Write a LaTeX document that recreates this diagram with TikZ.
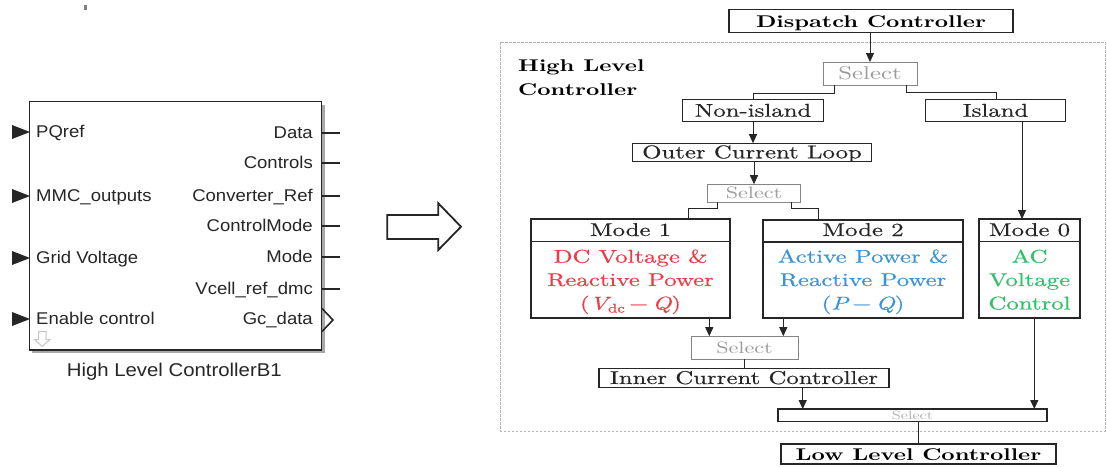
\documentclass[tikz,border=0pt]{standalone}
\usepackage{fontspec}
\setmainfont{lmroman10-regular.otf}[BoldFont=lmroman10-bold.otf, ItalicFont=lmroman10-italic.otf, BoldItalicFont=lmroman10-bolditalic.otf]
\newfontfamily\rmh{lmroman10-regular.otf}[FakeBold=0.35]
\newfontfamily\rmhi{lmroman10-italic.otf}[FakeBold=0.35]
\newfontfamily\lsans{Liberation Sans}
\usepackage{graphicx}
\usetikzlibrary{arrows.meta}
\definecolor{dk}{HTML}{262626}
\definecolor{cred}{HTML}{F03A45}
\definecolor{cblue}{HTML}{3A94DA}
\definecolor{cgreen}{HTML}{2FC06A}
\definecolor{selt}{HTML}{9C9C9C}
\definecolor{selb}{HTML}{858585}
\definecolor{frm}{HTML}{B5B5B5}
\definecolor{shd}{HTML}{A8A8A8}
\newcommand{\wxr}[1]{\scalebox{1.34}[1]{#1}}
\newcommand{\wxb}[1]{\scalebox{1.36}[1]{#1}}
\newcommand{\wxs}[1]{\scalebox{1.09}[1]{#1}}
\newcommand{\wxt}[1]{\scalebox{1.1}[1]{#1}}
\newcommand{\subdc}{\raisebox{-3pt}{\fontsize{12.5}{14}\selectfont dc}}
\tikzset{
  bx/.style={draw=dk, line width=1.2pt, fill=white, inner sep=0pt, outer sep=0pt},
  selbox/.style={draw=selb, line width=1pt, fill=white, inner sep=0pt, outer sep=0pt},
  lbl/.style={inner sep=0pt, anchor=base, text=dk, font=\rmh\fontsize{18.5}{22}\selectfont},
  blbl/.style={inner sep=0pt, anchor=base, text=black, font=\fontsize{17}{20}\selectfont\bfseries},
  sell/.style={inner sep=0pt, anchor=base, text=selt},
  slbl/.style={inner sep=0pt, text=dk, font=\lsans\fontsize{17}{20}\selectfont},
  arr/.style={draw=dk, line width=1pt, -{Triangle[length=9pt,width=8pt]}},
  ln/.style={draw=dk, line width=1pt},
  frame/.style={draw=frm, line width=0.8pt, dash pattern=on 2.5pt off 1.5pt},
}
\begin{document}
\begin{tikzpicture}[x=1pt,y=-1pt]
\useasboundingbox (0,0) rectangle (1107,466);
\fill[white] (0,0) rectangle (1107,466);

% stray tick mark
\fill[gray] (84,5) rectangle (86.5,9.5);

% ---------------- Simulink block ----------------
\fill[shd] (32,104.5) rectangle (324.5,352.8);
\node[draw=dk, line width=1.4pt, fill=white, inner sep=0pt, outer sep=0pt,
      minimum width=292.4pt, minimum height=248.3pt] (blk) at (175.5,225.85) {};

\foreach \y/\t [count=\i] in {132/PQref, 196/MMC\_outputs, 258/Grid Voltage, 319/Enable control}{
  \fill[dk] (12,{\y-7}) -- (30,\y) -- (12,{\y+7}) -- cycle;
  \node[slbl, anchor=base west] (in\i) at (36,{\y+5.5}) {\wxs{\t}};
}
\foreach \y/\t [count=\i] in {133/Data, 163/Controls, 196/Converter\_Ref, 226/ControlMode, 257/Mode, 289/Vcell\_ref\_dmc}{
  \draw[dk, line width=1.1pt] (321.7,\y) -- (340,\y);
  \node[slbl, anchor=base east] (out\i) at (313,{\y+5.5}) {\wxs{\t}};
}
\node[slbl, anchor=base east] (out7) at (313,324.5) {\wxs{Gc\_data}};
\draw[dk, line width=1.6pt] (322,308.5) -- (333,320) -- (322,331.5);
\draw[gray!45, line width=1pt] (38.5,331.5) -- (46,331.5) -- (46,339.5) -- (50,339.5)
   -- (42.25,346.5) -- (34.5,339.5) -- (38.5,339.5) -- cycle;
\node[inner sep=0pt, anchor=base, text=dk, font=\lsans\fontsize{18.5}{22}\selectfont]
   (blkname) at (174.3,376.7) {\wxt{High Level ControllerB1}};

% ---------------- big hollow arrow ----------------
\draw[draw=dk, line width=1.8pt, fill=white] (387.3,215) -- (438.3,215) -- (438.3,203.3)
   -- (461,226.7) -- (438.3,250) -- (438.3,239) -- (387.3,239) -- cycle;

% ---------------- right diagram ----------------
\draw[frame] (500.5,42) rectangle (1105,431);
\node[blbl, anchor=base west] (hlc1) at (518,71.7) {\wxb{High Level}};
\node[blbl, anchor=base west] (hlc2) at (518,95.7) {\wxb{Controller}};

\node[bx, minimum width=284pt, minimum height=23pt] (disp) at (871,21) {};
\node[blbl] (dispT) at (871,27.3) {\wxb{Dispatch Controller}};

\node[selbox, minimum width=94pt, minimum height=23pt] (sel1) at (870,73.5) {};
\node[sell, font=\fontsize{18.5}{22}\selectfont] (sel1T) at (870,79.5) {\wxr{Select}};

\node[bx, minimum width=141pt, minimum height=22pt] (nonisl) at (753,110.7) {};
\node[lbl] (nonislT) at (753,116.7) {\wxr{Non-island}};

\node[bx, minimum width=140pt, minimum height=22pt] (island) at (995.5,110.5) {};
\node[lbl] (islandT) at (995.5,116.7) {\wxr{Island}};

\node[bx, minimum width=239pt, minimum height=18pt] (outer) at (752,152.2) {};
\node[lbl] (outerT) at (752,158.3) {\wxr{Outer Current Loop}};

\node[selbox, minimum width=93pt, minimum height=18pt] (sel2) at (754,193.2) {};
\node[sell, font=\fontsize{16.5}{20}\selectfont] (sel2T) at (754,198.5) {\wxr{Select}};

% Mode boxes
\node[bx, minimum width=199pt, minimum height=99pt] (m1) at (630.5,268.5) {};
\draw[ln, line width=1.2pt] ([yshift=-22.7pt]m1.north west) -- ([yshift=-22.7pt]m1.north east);
\node[lbl] (m1T) at (630.5,236) {\wxr{Mode 1}};
\node[lbl, text=cred] (m1a) at (630.5,262.7) {\wxr{DC Voltage \&}};
\node[lbl, text=cred] (m1b) at (630.5,286) {\wxr{Reactive Power}};
\node[lbl, text=cred] (m1c) at (630.5,309.5) {\wxr{({\rmhi V}\subdc\,−\,{\rmhi Q})}};

\node[bx, minimum width=200pt, minimum height=98pt] (m2) at (863,269) {};
\draw[ln, line width=1.2pt] ([yshift=-22pt]m2.north west) -- ([yshift=-22pt]m2.north east);
\node[lbl] (m2T) at (863,236) {\wxr{Mode 2}};
\node[lbl, text=cblue] (m2a) at (863,262.7) {\wxr{Active Power \&}};
\node[lbl, text=cblue] (m2b) at (863,286) {\wxr{Reactive Power}};
\node[lbl, text=cblue] (m2c) at (863,309.5) {\wxr{({\rmhi P}\,−\,{\rmhi Q})}};

\node[bx, minimum width=101pt, minimum height=99pt] (m0) at (1029.5,268.5) {};
\draw[ln, line width=1.2pt] ([yshift=-22.7pt]m0.north west) -- ([yshift=-22.7pt]m0.north east);
\node[lbl] (m0T) at (1029.5,236) {\wxr{Mode 0}};
\node[lbl, text=cgreen] (m0a) at (1029.5,262.7) {\wxr{AC}};
\node[lbl, text=cgreen] (m0b) at (1029.5,286) {\wxr{Voltage}};
\node[lbl, text=cgreen] (m0c) at (1029.5,309.5) {\wxr{Control}};

\node[selbox, minimum width=107pt, minimum height=23pt] (sel3) at (744.5,347.7) {};
\node[sell, font=\fontsize{16.5}{20}\selectfont] (sel3T) at (744.5,353.3) {\wxr{Select}};

\node[bx, minimum width=290pt, minimum height=19.4pt] (inner) at (744,378) {};
\node[lbl] (innerT) at (744,384) {\wxr{Inner Current Controller}};

\node[bx, draw=dk, minimum width=269pt, minimum height=12.7pt] (sel4) at (912.5,415.4) {};
\node[sell, text=selt!80, font=\fontsize{12}{14}\selectfont] (sel4T) at (912.5,419.2) {\wxr{Select}};

\node[bx, minimum width=275pt, minimum height=20pt] (low) at (918.5,454) {};
\node[blbl] (lowT) at (918.5,460) {\wxb{Low Level Controller}};

% ---------------- connectors ----------------
\draw[arr] (disp.south -| sel1.north) -- (sel1.north);
\draw[ln] ([xshift=-36pt]sel1.south) -- ++(0,8) -| (nonisl.north);
\draw[ln] ([xshift=36.7pt]sel1.south) -- ++(0,7.7) -| ([xshift=1.2pt]island.north);
\draw[arr] (nonisl.south) -- (nonisl.south |- outer.north);
\draw[arr] (sel2.north |- outer.south) -- (sel2.north);
\draw[ln] ([xshift=-37pt]sel2.south) -- ++(0,6.7) -| ([xshift=57.5pt]m1.north);
\draw[ln] ([xshift=37.7pt]sel2.south) -- ++(0,6.7) -| ([xshift=-44.7pt]m2.north);
\draw[arr] ([xshift=26.5pt]island.south) -- ([xshift=26.5pt]island.south |- m0.north);
\draw[arr] ([xshift=-35.2pt]sel3.north |- m1.south) -- ([xshift=-35.2pt]sel3.north);
\draw[arr] ([xshift=38.8pt]sel3.north |- m2.south) -- ([xshift=38.8pt]sel3.north);
\draw[ln] (sel3.south) -- (sel3.south |- inner.north);
\draw[arr] ([xshift=-109.8pt]sel4.north |- inner.south) -- ([xshift=-109.8pt]sel4.north);
\draw[arr] ([xshift=121.8pt]sel4.north |- m0.south) -- ([xshift=121.8pt]sel4.north);
\draw[ln] (low.north |- sel4.south) -- (low.north);
\end{tikzpicture}
\end{document}
